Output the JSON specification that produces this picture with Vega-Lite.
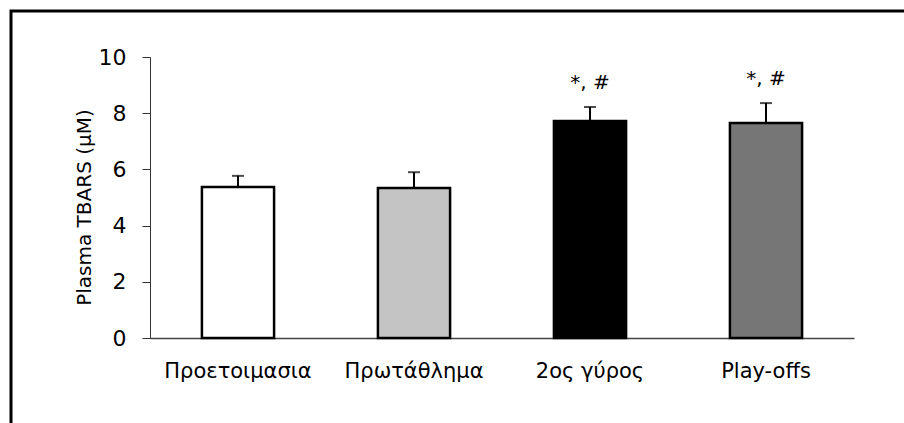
{
  "$schema": "https://vega.github.io/schema/vega-lite/v6.json",
  "width": 897,
  "height": 416,
  "autosize": {"type": "none"},
  "padding": {"left": 11, "top": 11, "right": -4, "bottom": -4},
  "background": "white",
  "config": {
    "view": {"stroke": "#000", "strokeWidth": 3},
    "font": "DejaVu Sans"
  },
  "data": {
    "values": [
      {"phase": "Προετοιμασια", "mean": 5.37, "upper": 5.77, "sig": ""},
      {"phase": "Πρωτάθλημα", "mean": 5.34, "upper": 5.9, "sig": ""},
      {"phase": "2ος γύρος", "mean": 7.72, "upper": 8.22, "sig": "*, #"},
      {"phase": "Play-offs", "mean": 7.65, "upper": 8.36, "sig": "*, #"}
    ]
  },
  "encoding": {
    "x": {
      "field": "phase",
      "type": "nominal",
      "sort": null,
      "scale": {"range": [139, 843], "paddingInner": 0.59, "paddingOuter": 0.295},
      "axis": {
        "title": null,
        "orient": "bottom",
        "offset": -89,
        "ticks": false,
        "labelAngle": 0,
        "labelFontSize": 21,
        "labelColor": "#000",
        "labelPadding": 22,
        "domainColor": "#444",
        "domainWidth": 1.5
      }
    }
  },
  "layer": [
    {
      "mark": {"type": "bar", "stroke": "#000", "strokeWidth": 2.5},
      "encoding": {
        "y": {
          "field": "mean",
          "type": "quantitative",
          "scale": {"domain": [0, 10], "range": [327, 46], "nice": false, "zero": true},
          "axis": {
            "title": "Plasma TBARS (μM)",
            "offset": -139,
            "values": [0, 2, 4, 6, 8, 10],
            "grid": false,
            "tickSize": 8,
            "tickColor": "#333",
            "domainColor": "#333",
            "labelFontSize": 22,
            "labelColor": "#000",
            "labelPadding": 16,
            "titleFontSize": 20,
            "titleFontWeight": "normal",
            "titleColor": "#000",
            "titlePadding": 4,
            "titleY": 196
          }
        },
        "fill": {
          "field": "phase",
          "type": "nominal",
          "scale": {
            "domain": ["Προετοιμασια", "Πρωτάθλημα", "2ος γύρος", "Play-offs"],
            "range": ["#ffffff", "#c4c4c4", "#000000", "#767676"]
          },
          "legend": null
        }
      }
    },
    {
      "mark": {"type": "rule", "strokeWidth": 2, "color": "#000"},
      "encoding": {
        "y": {"field": "mean", "type": "quantitative"},
        "y2": {"field": "upper"}
      }
    },
    {
      "mark": {"type": "tick", "orient": "horizontal", "size": 12, "thickness": 2, "color": "#000"},
      "encoding": {
        "y": {"field": "upper", "type": "quantitative"}
      }
    },
    {
      "mark": {"type": "text", "baseline": "bottom", "dy": -14, "fontSize": 20, "color": "#000"},
      "encoding": {
        "y": {"field": "upper", "type": "quantitative"},
        "text": {"field": "sig"}
      }
    }
  ]
}
